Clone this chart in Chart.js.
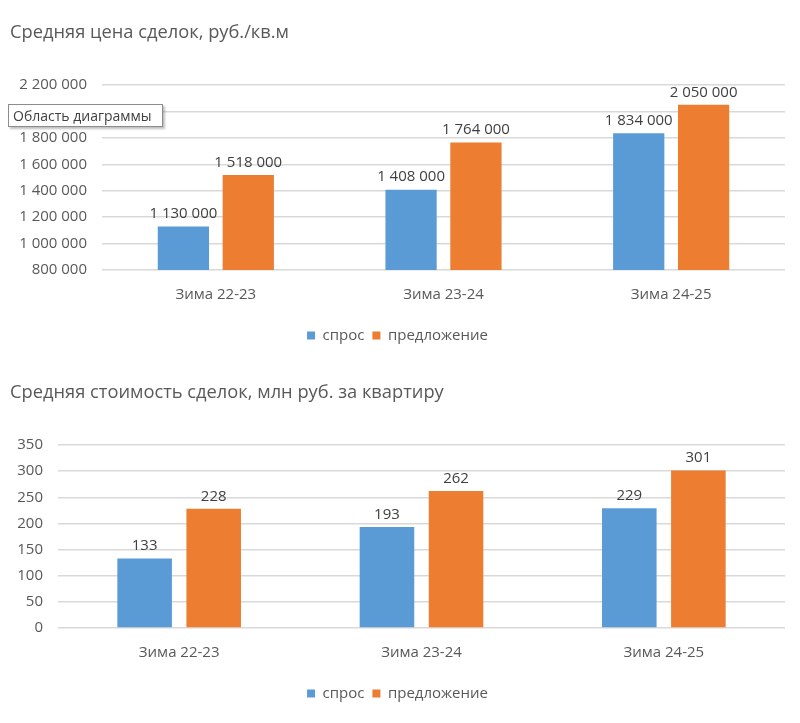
<!DOCTYPE html>
<html>
<head>
<meta charset="utf-8">
<script src="https://cdn.jsdelivr.net/npm/chart.js@4.4.1/dist/chart.umd.min.js"></script>
<style>
  body { margin: 0; background: #fff; }
  #wrap { position: relative; width: 800px; height: 723px; }
  .box { position: absolute; left: 0; width: 800px; }
  #tip {
    position: absolute; left: 8px; top: 104px; width: 155px; height: 23px;
    border: 1px solid #8c8c8c; background: #fff; box-shadow: 2px 2px 2px rgba(0,0,0,0.25);
    font: 14px "Open Sans", sans-serif; color: #404040; line-height: 21px; padding-left: 4px;
    box-sizing: border-box;
  }
</style>
</head>
<body>
<div id="wrap">
  <div class="box" style="top:0;height:360px"><canvas id="chart1"></canvas></div>
  <div class="box" style="top:360px;height:358px"><canvas id="chart2"></canvas></div>
  <div id="tip">Область диаграммы</div>
</div>
<script>
const categories = ["Зима 22-23", "Зима 23-24", "Зима 24-25"];
const seriesNames = ["спрос", "предложение"];

// средняя цена, руб./кв.м
const priceDemand = [1130000, 1408000, 1834000];
const priceOffer = [1518000, 1764000, 2050000];

// средняя стоимость, млн руб.
const costDemand = [133, 193, 229];
const costOffer = [228, 262, 301];

const blue = "#5B9BD5";
const orange = "#ED7D31";
const textColor = "#595959";
const fontFamily = "'Open Sans', sans-serif";

const fmt = (v) => String(v).replace(/\B(?=(\d{3})+(?!\d))/g, " ");

// draws value labels above the bars
const valueLabels = {
  id: "valueLabels",
  afterDatasetsDraw(chart) {
    const ctx = chart.ctx;
    ctx.save();
    ctx.font = "15px " + fontFamily;
    ctx.fillStyle = "#404040";
    ctx.textAlign = "center";
    ctx.textBaseline = "bottom";
    chart.data.datasets.forEach((ds, i) => {
      chart.getDatasetMeta(i).data.forEach((bar, j) => {
        ctx.fillText(fmt(ds.data[j]), bar.x, bar.y - 5);
      });
    });
    ctx.restore();
  },
};

function makeChart(id, title, demand, offer, min, max, step, axisWidth) {
  return new Chart(document.getElementById(id), {
    type: "bar",
    data: {
      labels: categories,
      datasets: [
        { label: seriesNames[0], data: demand, backgroundColor: blue },
        { label: seriesNames[1], data: offer, backgroundColor: orange },
      ],
    },
    options: {
      responsive: true,
      maintainAspectRatio: false,
      animation: false,
      categoryPercentage: 0.57,
      barPercentage: 0.79,
      layout: { padding: { left: 10, right: 15, top: 0, bottom: 7 } },
      plugins: {
        tooltip: { enabled: false },
        title: {
          display: true,
          text: title,
          align: "start",
          color: textColor,
          font: { family: fontFamily, size: 18.3, weight: "normal" },
          padding: { top: 22, bottom: 41 },
        },
        legend: {
          position: "bottom",
          labels: {
            color: textColor,
            font: { family: fontFamily, size: 15 },
            boxWidth: 8,
            boxHeight: 8,
            padding: 8,
          },
        },
      },
      scales: {
        x: {
          grid: { display: false, drawTicks: false },
          border: { display: false },
          ticks: { color: textColor, font: { family: fontFamily, size: 15 }, padding: 16 },
        },
        y: {
          min: min,
          max: max,
          afterFit: (axis) => { axis.width = axisWidth; },
          grid: { color: "#d9d9d9", lineWidth: 1.5, drawTicks: false },
          border: { display: false },
          ticks: {
            stepSize: step,
            color: textColor,
            font: { family: fontFamily, size: 15 },
            padding: 15,
            callback: (v) => fmt(v),
          },
        },
      },
    },
    plugins: [valueLabels],
  });
}

makeChart("chart1", "Средняя цена сделок, руб./кв.м", priceDemand, priceOffer, 800000, 2200000, 200000, 92);
makeChart("chart2", "Средняя стоимость сделок, млн руб. за квартиру", costDemand, costOffer, 0, 350, 50, 48);
</script>
</body>
</html>
